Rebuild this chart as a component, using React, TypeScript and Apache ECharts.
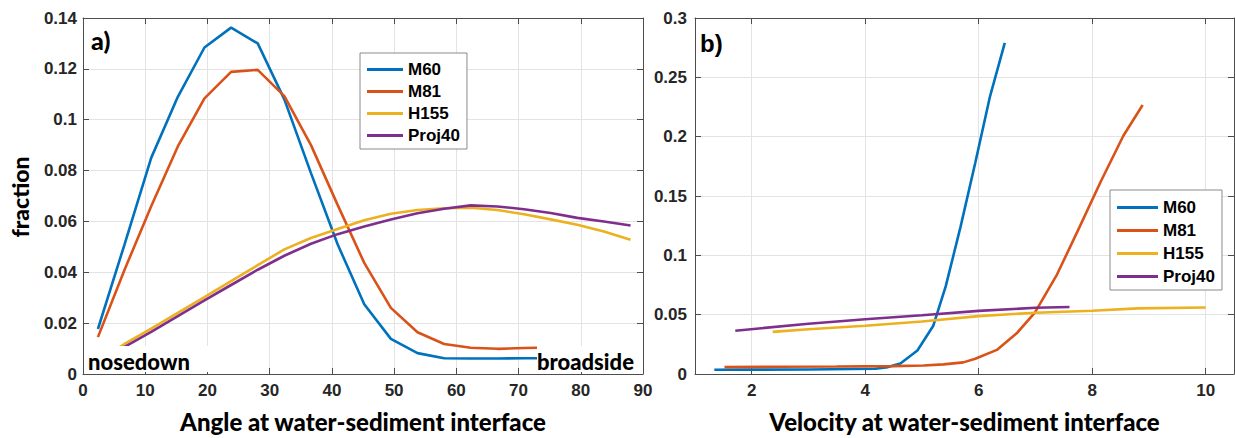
import React, { useEffect, useRef } from "react";
import * as echarts from "echarts";

// ---- Data: panel a) angle distribution ----
const angleBins = [2.4, 6.68, 10.96, 15.24, 19.52, 23.8, 28.08, 32.36, 36.64, 40.92, 45.2, 49.48, 53.76, 58.04, 62.32, 66.6, 70.88, 75.16, 79.44, 83.72, 88.0];
const m60Angle = [0.0177, 0.051, 0.085, 0.109, 0.1284, 0.1362, 0.130, 0.108, 0.079, 0.051, 0.0274, 0.0138, 0.0082, 0.0062, 0.0061, 0.0061, 0.0062, 0.0062];
const m81Angle = [0.0145, 0.041, 0.066, 0.0895, 0.1084, 0.1188, 0.1196, 0.1093, 0.090, 0.0665, 0.0437, 0.026, 0.0164, 0.0118, 0.0103, 0.0099, 0.0102, 0.0104];
const h155Angle = [0.0055, 0.0118, 0.0178, 0.024, 0.0302, 0.0365, 0.0428, 0.049, 0.0535, 0.057, 0.0605, 0.063, 0.0645, 0.0652, 0.0654, 0.0645, 0.0628, 0.0608, 0.0587, 0.056, 0.0528];
const proj40Angle = [0.005, 0.0107, 0.0166, 0.0228, 0.029, 0.035, 0.041, 0.0465, 0.0512, 0.055, 0.058, 0.0608, 0.0632, 0.065, 0.0663, 0.0659, 0.0648, 0.0633, 0.0614, 0.06, 0.0584];

// ---- Data: panel b) velocity distribution ----
const m60VelX = [1.34, 2.0, 3.0, 4.18, 4.4, 4.62, 4.92, 5.2, 5.42, 5.68, 5.94, 6.2, 6.46];
const m60VelY = [0.0036, 0.0037, 0.0038, 0.0044, 0.0058, 0.0088, 0.0198, 0.0407, 0.074, 0.124, 0.178, 0.234, 0.279];
const m81VelX = [1.52, 2.5, 3.5, 4.5, 5.03, 5.38, 5.73, 5.94, 6.32, 6.67, 6.99, 7.38, 7.75, 8.15, 8.55, 8.89];
const m81VelY = [0.0058, 0.0061, 0.0063, 0.0066, 0.0071, 0.0081, 0.0098, 0.0128, 0.0203, 0.0343, 0.0518, 0.0838, 0.121, 0.162, 0.2008, 0.2267];
const h155VelX = [2.37, 3.0, 4.0, 5.0, 6.0, 7.0, 8.0, 8.8, 10.0];
const h155VelY = [0.0355, 0.0377, 0.0407, 0.0443, 0.0488, 0.0516, 0.0533, 0.0553, 0.056];
const proj40VelX = [1.71, 3.0, 4.0, 5.0, 6.0, 7.0, 7.6];
const proj40VelY = [0.0365, 0.0423, 0.0462, 0.0495, 0.0532, 0.0558, 0.0564];

const seriesNames = ["M60", "M81", "H155", "Proj40"];
const colors = ["#0072BD", "#D95319", "#EDB120", "#7E2F8E"];
const velTicks = [2, 4, 6, 8, 10];

const pairs = (xs: number[], ys: number[]) => ys.map((y, i) => [xs[i], y]);

const TICK_FONT = "Liberation Sans";
const TITLE_FONT = "Lato";
const AXIS_COLOR = "#4d4d4d";
const GRID_COLOR = "#e3e3e3";
const TICK_LABEL = { color: "#262626", fontFamily: TICK_FONT, fontWeight: "bold", fontSize: 17 };

function mainAxis(extra: any) {
  return {
    type: "value",
    axisLine: { show: true, onZero: false, lineStyle: { color: AXIS_COLOR, width: 1 } },
    axisTick: { show: true, inside: true, length: 6, lineStyle: { color: AXIS_COLOR } },
    splitLine: { show: true, lineStyle: { color: GRID_COLOR, width: 1 } },
    axisLabel: { ...TICK_LABEL },
    ...extra,
  };
}
function mirrorAxis(extra: any) {
  return {
    type: "value",
    axisLine: { show: true, onZero: false, lineStyle: { color: AXIS_COLOR, width: 1 } },
    axisTick: { show: true, inside: true, length: 6, lineStyle: { color: AXIS_COLOR } },
    splitLine: { show: false },
    axisLabel: { show: false },
    ...extra,
  };
}

export default function App() {
  const ref = useRef<HTMLDivElement>(null);
  useEffect(() => {
    if (!ref.current) return;
    const chart = echarts.init(ref.current, undefined, { renderer: "svg" });
    const fmt = (v: number) => String(+v.toFixed(2));
    const lineSeries = (name: string, idx: number, data: number[][], axisIdx: number) => ({
      name,
      type: "line",
      xAxisIndex: axisIdx,
      yAxisIndex: axisIdx,
      data,
      symbol: "none",
      lineStyle: { width: 2.6, color: colors[idx] },
      itemStyle: { color: colors[idx] },
      z: 3,
    });
    const legendCommon = {
      orient: "vertical",
      icon: "rect",
      itemHeight: 3,
      backgroundColor: "#fff",
      borderColor: "#8a8a8a",
      borderWidth: 1,
      borderRadius: 0,
      textStyle: { color: "#000", fontFamily: TICK_FONT, fontWeight: "bold", fontSize: 17, lineHeight: 17 },
      data: seriesNames,
      selectedMode: false,
    };
    const titleStyle = { color: "#000", fontFamily: TITLE_FONT, fontWeight: 900, fontSize: 24 };
    chart.setOption({
      animation: false,
      backgroundColor: "#fff",
      grid: [
        { left: 83, top: 18, width: 560, height: 359 },
        { left: 695, top: 18, width: 539, height: 359 },
      ],
      xAxis: [
        mainAxis({
          gridIndex: 0, position: "bottom", min: 0, max: 90, interval: 10,
          axisLabel: { ...TICK_LABEL, margin: 8 },
          name: "Angle at water-sediment interface", nameLocation: "middle", nameGap: 35,
          nameTextStyle: titleStyle,
        }),
        mainAxis({
          gridIndex: 1, position: "bottom", min: 1, max: 10.5,
          axisTick: { show: true, inside: true, length: 6, customValues: velTicks, lineStyle: { color: AXIS_COLOR } },
          axisLabel: { ...TICK_LABEL, margin: 8, customValues: velTicks },
          name: "Velocity at water-sediment interface", nameLocation: "middle", nameGap: 35,
          nameTextStyle: titleStyle,
        }),
        mirrorAxis({ gridIndex: 0, position: "top", min: 0, max: 90, interval: 10 }),
        mirrorAxis({
          gridIndex: 1, position: "top", min: 1, max: 10.5,
          axisTick: { show: true, inside: true, length: 6, customValues: velTicks, lineStyle: { color: AXIS_COLOR } },
        }),
      ],
      yAxis: [
        mainAxis({
          gridIndex: 0, position: "left", min: 0, max: 0.14, interval: 0.02,
          axisLabel: { ...TICK_LABEL, margin: 6, formatter: fmt },
        }),
        mainAxis({
          gridIndex: 1, position: "left", min: 0, max: 0.3, interval: 0.05,
          axisLabel: { ...TICK_LABEL, margin: 8, formatter: fmt },
        }),
        mirrorAxis({ gridIndex: 0, position: "right", min: 0, max: 0.14, interval: 0.02 }),
        mirrorAxis({ gridIndex: 1, position: "right", min: 0, max: 0.3, interval: 0.05 }),
      ],
      legend: [
        { ...legendCommon, left: 360, top: 53, itemWidth: 36, itemGap: 5, padding: [8, 7, 5, 7] },
        { ...legendCommon, left: 1110, top: 190, itemWidth: 41, itemGap: 6, padding: [9, 7, 5, 7] },
      ],
      series: [
        lineSeries("M60", 0, pairs(angleBins, m60Angle), 0),
        lineSeries("M81", 1, pairs(angleBins, m81Angle), 0),
        lineSeries("H155", 2, pairs(angleBins, h155Angle), 0),
        lineSeries("Proj40", 3, pairs(angleBins, proj40Angle), 0),
        lineSeries("M60", 0, pairs(m60VelX, m60VelY), 1),
        lineSeries("M81", 1, pairs(m81VelX, m81VelY), 1),
        lineSeries("H155", 2, pairs(h155VelX, h155VelY), 1),
        lineSeries("Proj40", 3, pairs(proj40VelX, proj40VelY), 1),
      ],
      graphic: [
        { type: "rect", z: 50, shape: { x: 84, y: 346, width: 140, height: 26 }, style: { fill: "#fff" } },
        { type: "rect", z: 50, shape: { x: 537, y: 346, width: 105, height: 26 }, style: { fill: "#fff" } },
        { type: "text", z: 51, x: 88, y: 372, style: { text: "nosedown", fill: "#000", font: `900 22px ${TITLE_FONT}`, verticalAlign: "bottom" } },
        { type: "text", z: 51, x: 537, y: 372, style: { text: "broadside", fill: "#000", font: `900 22px ${TITLE_FONT}`, verticalAlign: "bottom" } },
        { type: "text", z: 51, x: 91, y: 27, style: { text: "a)", fill: "#000", font: `900 25px ${TITLE_FONT}`, verticalAlign: "top" } },
        { type: "text", z: 51, x: 700, y: 31, style: { text: "b)", fill: "#000", font: `bold 24px ${TICK_FONT}`, verticalAlign: "top" } },
        { type: "text", z: 51, x: 20, y: 197, rotation: Math.PI / 2, style: { text: "fraction", fill: "#000", font: `900 23px ${TITLE_FONT}`, align: "center", verticalAlign: "middle" } },
      ],
    });
    return () => chart.dispose();
  }, []);
  return <div ref={ref} style={{ position: "absolute", left: 0, top: 0, width: 1235, height: 438 }} />;
}
